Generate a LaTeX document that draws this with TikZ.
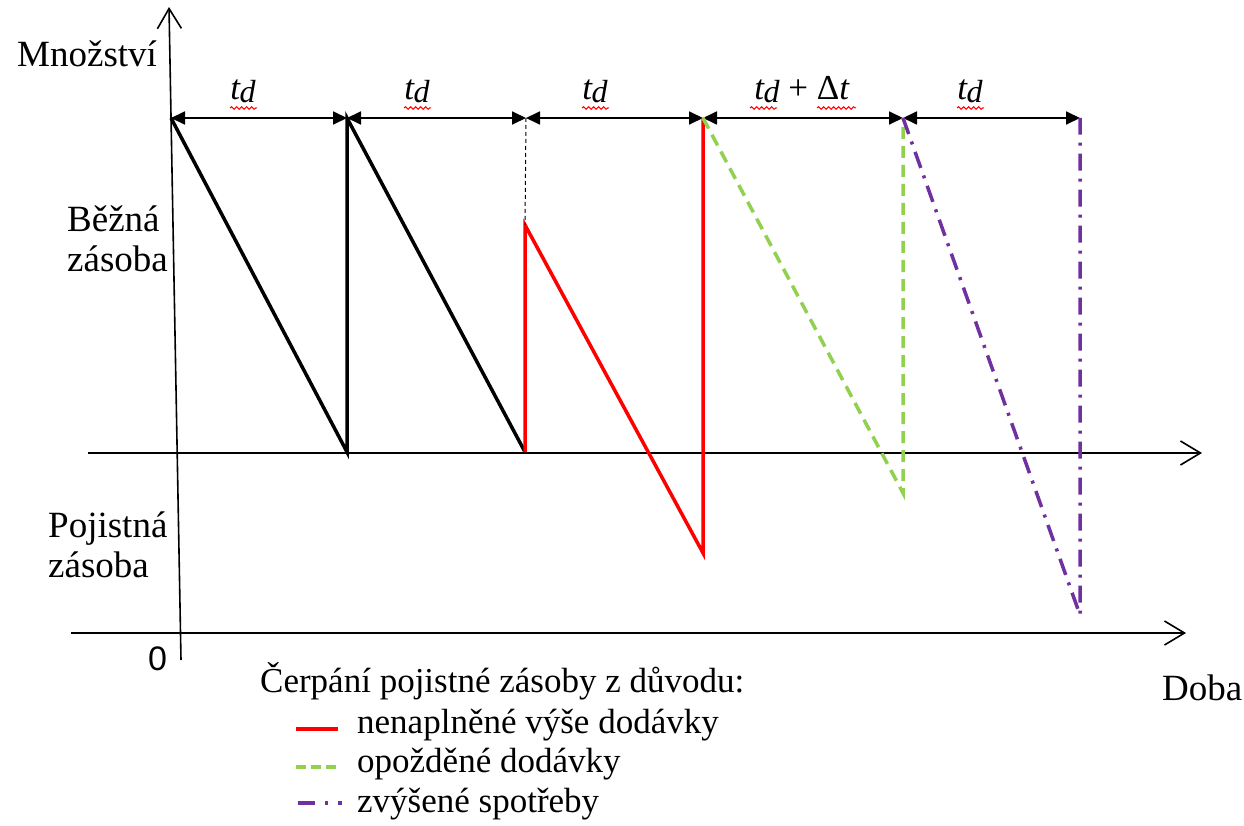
\documentclass[tikz,border=0pt]{standalone}
\usepackage{fontspec}
\setmainfont{Liberation Serif}
\newfontfamily\arialf{Liberation Sans}
\usetikzlibrary{arrows.meta,decorations.pathmorphing}
\definecolor{legred}{RGB}{255,0,0}
\definecolor{leggreen}{RGB}{146,208,80}
\definecolor{legpurple}{RGB}{112,48,160}
\newcommand{\tdlab}{\textit{t\kern-0.5pt\raisebox{-3pt}{\fontsize{32}{34}\selectfont d}}}
\begin{document}
\begin{tikzpicture}[x=1pt,y=-1pt,
  txt/.style={font=\fontsize{37}{42}\selectfont, inner sep=0pt, anchor=base west},
  legtxt/.style={font=\fontsize{35}{40}\selectfont, inner sep=0pt, anchor=base west},
  axisline/.style={line width=1.6pt, -{Straight Barb[length=20pt,width=24pt,line width=1.6pt]}},
  dimline/.style={line width=1.8pt, {Triangle[length=14pt,width=13pt]}-{Triangle[length=14pt,width=13pt]}},
  lab/.style={font=\fontsize{35}{38}\selectfont, inner sep=0pt, anchor=base},
  saw/.style={line width=3.5pt, line join=miter},
  redsaw/.style={saw, legred},
  greensaw/.style={saw, leggreen, dash pattern=on 12pt off 7pt},
  purplesaw/.style={saw, legpurple, dash pattern=on 17pt off 8pt on 3pt off 8pt},
  spell/.style={legred, line width=1pt, decorate, decoration={snake, segment length=5pt, amplitude=1.3pt}}
]
\path[use as bounding box] (0,0) rectangle (1244,826);

% axes
\coordinate (vb) at (181,660);
\coordinate (vt) at (169,7);
\draw[axisline] (vb) -- (vt);
\coordinate (h1a) at (88,453);
\coordinate (h1b) at (1202,453);
\draw[axisline] (h1a) -- (h1b);
\coordinate (h2a) at (71,633);
\coordinate (h2b) at (1186,633);
\draw[axisline] (h2a) -- (h2b);

% dimension points
\coordinate (d0) at (171,118);
\coordinate (d1) at (347,118);
\coordinate (d2) at (526,118);
\coordinate (d3) at (703,118);
\coordinate (d4) at (903,118);
\coordinate (d5) at (1080,118);
\draw[dimline] (d0) -- (d1);
\draw[dimline] (d1) -- (d2);
\draw[dimline] (d2) -- (d3);
\draw[dimline] (d3) -- (d4);
\draw[dimline] (d4) -- (d5);

% sawtooth
\coordinate (b1) at (347,452);
\coordinate (b2) at (525,452);
\coordinate (r1) at (525,225);
\coordinate (r2) at (703,553);
\coordinate (g1) at (903,493);
\coordinate (p1) at (1080,615);
\draw[saw] (d0) -- (b1) -- (d1) -- (b2);
\draw[redsaw] (b2) -- (r1) -- (r2) -- (d3);
\draw[line width=1pt, dash pattern=on 4pt off 3pt] (d2) -- (r1);
\draw[greensaw] (d3) -- (g1) -- (d4);
\draw[purplesaw] (d4) -- (p1) -- (d5);

% interval labels
\node[lab] (l1) at (243,100) {\tdlab};
\node[lab] (l2) at (417,100) {\tdlab};
\node[lab] (l3) at (595,100) {\tdlab};
\node[lab] (l4) at (802,100) {\tdlab\ + Δ\textit{t}};
\node[lab] (l5) at (970,100) {\tdlab};
\draw[spell] (230,108) -- (257,108);
\draw[spell] (404,108) -- (431,108);
\draw[spell] (582,108) -- (609,108);
\draw[spell] (750,108) -- (777,108);
\draw[spell] (817,108) -- (856,108);
\draw[spell] (957,108) -- (984,108);

% axis texts
\node[txt] (mn) at (17,67) {Množství};
\node[txt] (be1) at (67,232) {Běžná};
\node[txt] (be2) at (67,272) {zásoba};
\node[txt] (po1) at (48,537) {Pojistná};
\node[txt] (po2) at (48,577) {zásoba};
\node[txt, font=\arialf\fontsize{34}{40}\selectfont] (zero) at (148,670) {0};
\node[txt] (doba) at (1162,700) {Doba};

% legend
\node[legtxt] (leg) at (260,692) {Čerpání pojistné zásoby z důvodu:};
\node[legtxt] (leg1) at (357,733) {nenaplněné výše dodávky};
\node[legtxt] (leg2) at (357,772) {opožděné dodávky};
\node[legtxt] (leg3) at (357,812) {zvýšené spotřeby};
\coordinate (s1a) at (296,729);
\coordinate (s1b) at (338,729);
\coordinate (s2a) at (296,767);
\coordinate (s2b) at (338,767);
\coordinate (s3a) at (298,803);
\coordinate (s3b) at (342,803);
\draw[redsaw] (s1a) -- (s1b);
\draw[greensaw, dash pattern=on 10pt off 5pt] (s2a) -- (s2b);
\draw[purplesaw, dash pattern=on 17pt off 10pt on 3pt off 10pt] (s3a) -- (s3b);
\end{tikzpicture}
\end{document}
